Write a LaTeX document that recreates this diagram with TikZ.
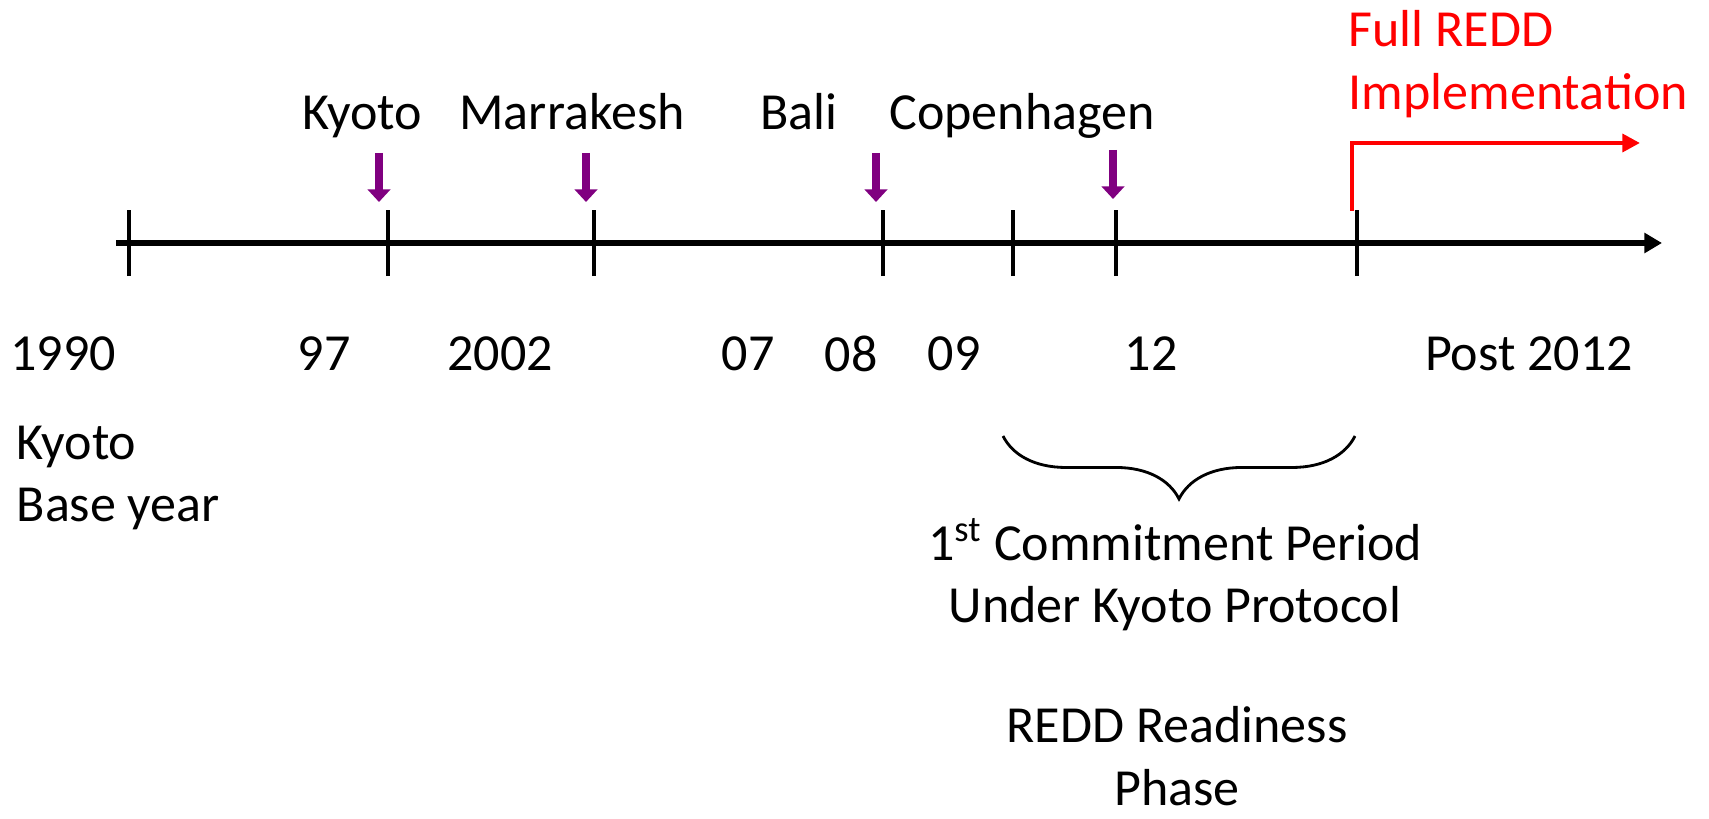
\documentclass[tikz,border=0pt]{standalone}
\usepackage{fontspec}
\setmainfont{Carlito}
\usetikzlibrary{arrows.meta,decorations.pathreplacing}
\definecolor{eventpurple}{RGB}{128,0,128}
\definecolor{reddred}{RGB}{255,0,0}

\begin{document}
\begin{tikzpicture}[x=.01cm, y=-.01cm,
    every node/.style={font=\fontsize{14.8}{17.9}\selectfont, inner sep=0pt},
    axisline/.style={line width=1.6pt, -{Triangle[width=5.5pt,length=5pt]}},
    tickline/.style={line width=1.3pt},
    eventarrow/.style={eventpurple, line width=2.4pt, -{Triangle[width=6.4pt,length=3.6pt]}},
    fullarrow/.style={reddred, line width=1.4pt, -{Triangle[width=5pt,length=5pt]}}]
    \useasboundingbox (0,0) rectangle (1709,819);

    %axis
    \coordinate (start) at (116,243);
    \coordinate (end) at (1662,243);
    \draw[axisline] (start) -- (end);

    %ticks
    \foreach \name/\x in {t90/129, t97/388, t02/594, t08/883, t09/1013, t12/1116, tpost/1357}{
        \coordinate (\name) at (\x,243);
        \draw[tickline] ([yshift=-.33cm]\name) -- ([yshift=.33cm]\name);
    }

    %events
    \node[anchor=base] (kyoto) at (362,130) {Kyoto};
    \node[anchor=base] (marrakesh) at (572,130) {Marrakesh};
    \node[anchor=base] (bali) at (799,130) {Bali};
    \node[anchor=base] (copenhagen) at (1022,130) {Copenhagen};
    \coordinate (kyototop) at (379,153);
    \coordinate (kyototip) at (379,202);
    \coordinate (marrtop) at (586,153);
    \coordinate (marrtip) at (586,202);
    \coordinate (balitop) at (876,153);
    \coordinate (balitip) at (876,202);
    \coordinate (copentop) at (1113,150);
    \coordinate (copentip) at (1113,199);
    \draw[eventarrow] (kyototop) -- (kyototip);
    \draw[eventarrow] (marrtop) -- (marrtip);
    \draw[eventarrow] (balitop) -- (balitip);
    \draw[eventarrow] (copentop) -- (copentip);

    %full redd
    \node[reddred, align=left, anchor=west] (fullredd) at (1348,64) {Full REDD\\Implementation};
    \coordinate (fullfoot) at (1352,211);
    \coordinate (fullcorner) at (1352,143);
    \coordinate (fullend) at (1640,143);
    \draw[fullarrow] (fullfoot) -- (fullcorner) -- (fullend);

    %years
    \node (y90) at (63,354) {1990};
    \node (y97) at (324,354) {97};
    \node (y02) at (500,354) {2002};
    \node (y07) at (748,354) {07};
    \node (y08) at (851,354) {08};
    \node (y09) at (954,354) {09};
    \node (y12) at (1151,354) {12};
    \node (ypost) at (1529,354) {Post 2012};

    %base year
    \node[align=left, anchor=west] (baseyear) at (16,478) {Kyoto\\Base year};

    %commitment period
    \coordinate (braceleft) at (1003,436);
    \coordinate (braceright) at (1355,436);
    \draw[line width=.8pt, decorate, decoration={brace, mirror, amplitude=17.9pt}] (braceleft) -- (braceright);
    \node[align=center] (commitment) at (1175,575) {1\textsuperscript{st} Commitment Period\\Under Kyoto Protocol};
    \node[align=center] (readiness) at (1177,756) {REDD Readiness\\Phase};
\end{tikzpicture}
\end{document}
